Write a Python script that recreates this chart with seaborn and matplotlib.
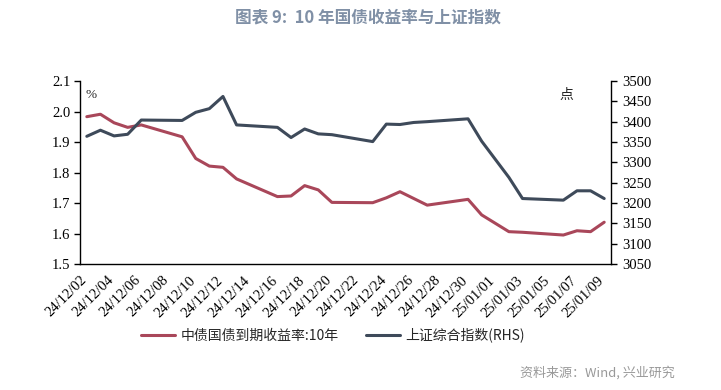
import matplotlib
matplotlib.use("Agg")
import matplotlib.pyplot as plt
import matplotlib.dates as mdates
from matplotlib.lines import Line2D
import seaborn as sns
import pandas as pd
import numpy as np

dates = ["2024-12-02","2024-12-03","2024-12-04","2024-12-05","2024-12-06",
         "2024-12-09","2024-12-10","2024-12-11","2024-12-12","2024-12-13",
         "2024-12-16","2024-12-17","2024-12-18","2024-12-19","2024-12-20",
         "2024-12-23","2024-12-24","2024-12-25","2024-12-26","2024-12-27",
         "2024-12-30","2024-12-31","2025-01-02","2025-01-03","2025-01-06",
         "2025-01-07","2025-01-08","2025-01-09"]
yield_10y = [1.983, 1.991, 1.963, 1.948, 1.956,
             1.917, 1.846, 1.821, 1.817, 1.779,
             1.721, 1.723, 1.757, 1.743, 1.702,
             1.701, 1.717, 1.737, 1.715, 1.693,
             1.712, 1.661, 1.606, 1.604, 1.595,
             1.609, 1.606, 1.637]
sse_index = [3364, 3379, 3365, 3369, 3404,
             3403, 3423, 3432, 3462, 3392,
             3386, 3361, 3382, 3370, 3368,
             3351, 3394, 3393, 3398, 3400,
             3407, 3352, 3263, 3211, 3207,
             3230, 3230, 3211]
label_yield = "中债国债到期收益率:10年"
label_sse = "上证综合指数(RHS)"
title = "图表 9:  10 年国债收益率与上证指数"
source = "资料来源：Wind, 兴业研究"

RED = "#A9475A"
BLUE = "#3E4A5A"
SERIF = ['Liberation Serif', 'DejaVu Serif']
CJK = ['Noto Sans CJK SC', 'DejaVu Sans']

sns.set_theme(style="white")
plt.rcParams['font.family'] = ['Liberation Serif', 'Noto Sans CJK SC', 'DejaVu Sans']

df = pd.DataFrame({
    "date": pd.to_datetime(dates) + pd.Timedelta(hours=12),
    "yield": yield_10y,
    "sse": sse_index,
})

fig = plt.figure(figsize=(7.21, 3.90), dpi=100)
ax = fig.add_axes([80/721, 1-264/390, (611-80)/721, (264-81)/390])
ax2 = ax.twinx()

sns.lineplot(data=df, x="date", y="yield", ax=ax, color=RED, lw=2.2, legend=False)
sns.lineplot(data=df, x="date", y="sse", ax=ax2, color=BLUE, lw=2.2, legend=False)

ax.set_xlim(pd.Timestamp("2024-12-02"), pd.Timestamp("2025-01-10"))
ax.set_ylim(1.5, 2.1)
yt = np.arange(1.5, 2.11, 0.1)
ax.set_yticks(yt)
ax.set_yticklabels([f"{v:.1f}" for v in yt], family=SERIF, fontsize=10.5)
ax2.set_ylim(3050, 3500)
rt = np.arange(3050, 3501, 50)
ax2.set_yticks(rt)
ax2.set_yticklabels([str(v) for v in rt], family=SERIF, fontsize=10.5)

ticks = pd.date_range("2024-12-02", "2025-01-09", freq="2D")
ax.set_xticks(ticks)
ax.set_xticklabels([t.strftime("%y/%m/%d") for t in ticks], family=SERIF, fontsize=10.5,
                   rotation=45, ha="right", va="top", rotation_mode="anchor")
ax.set_xlabel("")
ax.set_ylabel("")
ax2.set_ylabel("")

for a in (ax, ax2):
    for s in a.spines.values():
        s.set_visible(False)
ax.spines["left"].set_visible(True)
ax.spines["bottom"].set_visible(True)
ax2.spines["right"].set_visible(True)
for s in (ax.spines["left"], ax.spines["bottom"], ax2.spines["right"]):
    s.set_color("#000000")
    s.set_linewidth(1.0)

ax.tick_params(axis="y", direction="out", length=4, width=1, colors="#000000", pad=3)
ax.tick_params(axis="x", direction="out", length=4, width=1, colors="#000000", pad=3)
ax2.tick_params(axis="y", direction="out", length=4, width=1, colors="#000000", pad=4)
ax.grid(False)
ax2.grid(False)

fig.text(86/721, 1-95/390, "%", fontsize=9.5, va="center", ha="left", family=SERIF)
fig.text(566/721, 1-95/390, "点", fontsize=10, va="center", ha="center", family=CJK)

handles = [Line2D([], [], color=RED, lw=2.2), Line2D([], [], color=BLUE, lw=2.2)]
fig.legend(handles, [label_yield, label_sse], loc="center", bbox_to_anchor=(333/721, 1-335/390),
           ncol=2, frameon=False, handlelength=2.4, handletextpad=0.4,
           columnspacing=2.0, prop={'family': CJK, 'size': 10})

fig.text(368/721, 1-17/390, title, ha="center", va="center", fontsize=12, fontweight="bold",
         color="#8090A6", family=CJK)
fig.text(675/721, 1-373/390, source, ha="right", va="center", fontsize=9.4,
         color="#999999", family=CJK)

fig.savefig("out.png", dpi=100)
